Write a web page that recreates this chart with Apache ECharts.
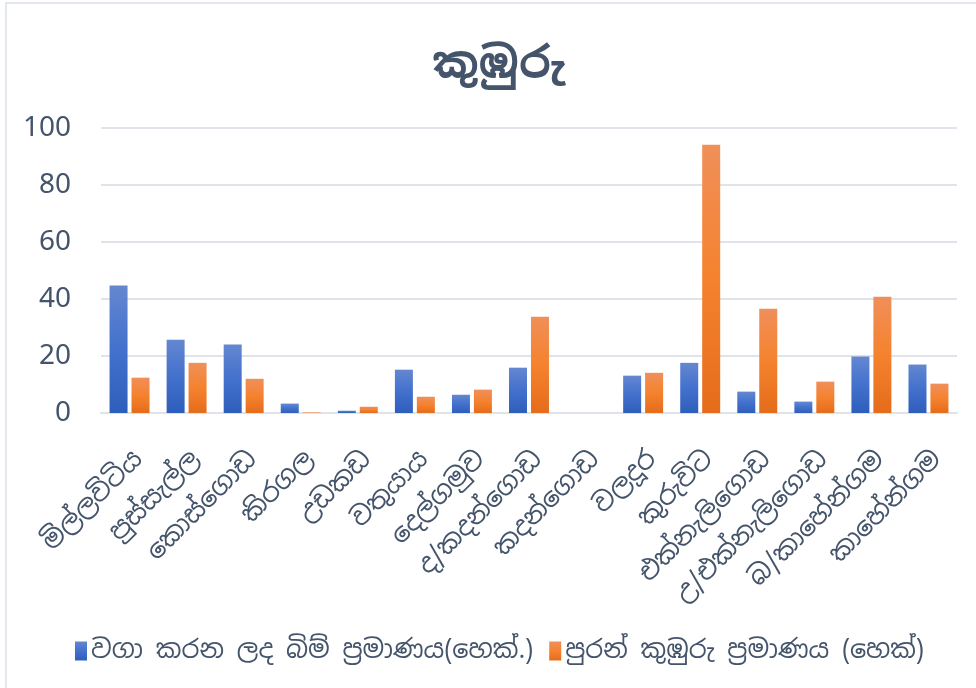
<!DOCTYPE html>
<html>
<head>
<meta charset="utf-8">
<script src="https://cdn.jsdelivr.net/npm/echarts@6/dist/echarts.min.js"></script>
<style>
  html, body { margin: 0; padding: 0; background: #ffffff; }
  #frame { position: absolute; left: 5px; top: 2px; width: 1000px; height: 720px;
           border-left: 2px solid #e3e7ee; border-top: 2px solid #e3e7ee; box-sizing: border-box; }
  #chart { position: absolute; left: 0; top: 0; width: 976px; height: 688px; }
</style>
</head>
<body>
<div id="frame"></div>
<div id="chart"></div>
<script>
// Divisional areas
const categories = [
  'මිල්ලවිටිය', 'පුස්සැල්ල', 'කොස්ගොඩ', 'කිරගල', 'උඩකඩ',
  'වතුයාය', 'දෙල්ගමුව', 'ද/කදන්ගොඩ', 'කදන්ගොඩ', 'වලදූර',
  'කුරුවිට', 'එක්නැලිගොඩ', 'උ/එක්නැලිගොඩ', 'බ/කාහේන්ගම', 'කාහේන්ගම'
];
// Cultivated extent (hectares)
const cultivated = [44.7, 25.7, 24.0, 3.3, 0.8, 15.2, 6.4, 15.9, 0, 13.1, 17.6, 7.5, 4.0, 19.8, 17.0];
// Abandoned paddy extent (hectares)
const abandoned = [12.4, 17.6, 12.0, 0.2, 2.2, 5.7, 8.2, 33.8, 0, 14.1, 94.1, 36.6, 11.0, 40.8, 10.3];
const seriesNames = ['වගා කරන ලද බිම් ප්‍රමාණය(හෙක්.)', 'පුරන් කුඹුරු ප්‍රමාණය (හෙක්)'];
const yTicks = { min: 0, max: 100, interval: 20 };

const fontStack = '"Noto Sans Sinhala", "Noto Sans", "DejaVu Sans", sans-serif';
const textColor = '#44546A';

function grad(top, mid, bottom) {
  return new echarts.graphic.LinearGradient(0, 0, 0, 1, [
    { offset: 0, color: top }, { offset: 0.5, color: mid }, { offset: 1, color: bottom }
  ]);
}

const chart = echarts.init(document.getElementById('chart'), null, { renderer: 'canvas' });
chart.setOption({
  animation: false,
  backgroundColor: 'transparent',
  title: {
    text: 'කුඹුරු',
    left: 494,
    textAlign: 'center',
    top: 39,
    textStyle: { fontFamily: fontStack, fontSize: 44, fontWeight: 'bold', color: textColor }
  },
  legend: {
    bottom: 19,
    left: 70,
    itemWidth: 12,
    itemHeight: 19,
    itemGap: 16,
    icon: 'rect',
    textStyle: { fontFamily: fontStack, fontSize: 25.5, color: textColor, padding: [0, 0, 0, -1] },
    data: seriesNames
  },
  grid: { left: 101, right: 19, top: 128, bottom: 275, containLabel: false },
  xAxis: {
    type: 'category',
    data: categories,
    axisLine: { show: true, lineStyle: { color: '#e0e3ea', width: 2 } },
    axisTick: { show: false },
    axisLabel: {
      rotate: 45,
      interval: 0,
      margin: 33,
      verticalAlign: 'top',
      fontFamily: fontStack,
      fontSize: 26,
      color: textColor
    }
  },
  yAxis: {
    type: 'value',
    min: yTicks.min,
    max: yTicks.max,
    interval: yTicks.interval,
    axisLine: { show: false },
    axisTick: { show: false },
    splitLine: { lineStyle: { color: '#e0e3ea', width: 2 } },
    axisLabel: { margin: 30, fontFamily: '"Noto Sans", sans-serif', fontSize: 28, color: textColor }
  },
  series: [
    {
      name: seriesNames[0],
      type: 'bar',
      data: cultivated,
      barWidth: 18,
      barGap: '22%',
      itemStyle: { color: grad('#6487d0', '#4371cd', '#2e5ebb') }
    },
    {
      name: seriesNames[1],
      type: 'bar',
      data: abandoned,
      barWidth: 18,
      itemStyle: { color: grad('#f08f5a', '#f5822e', '#e46c1b') }
    }
  ]
});
</script>
</body>
</html>
